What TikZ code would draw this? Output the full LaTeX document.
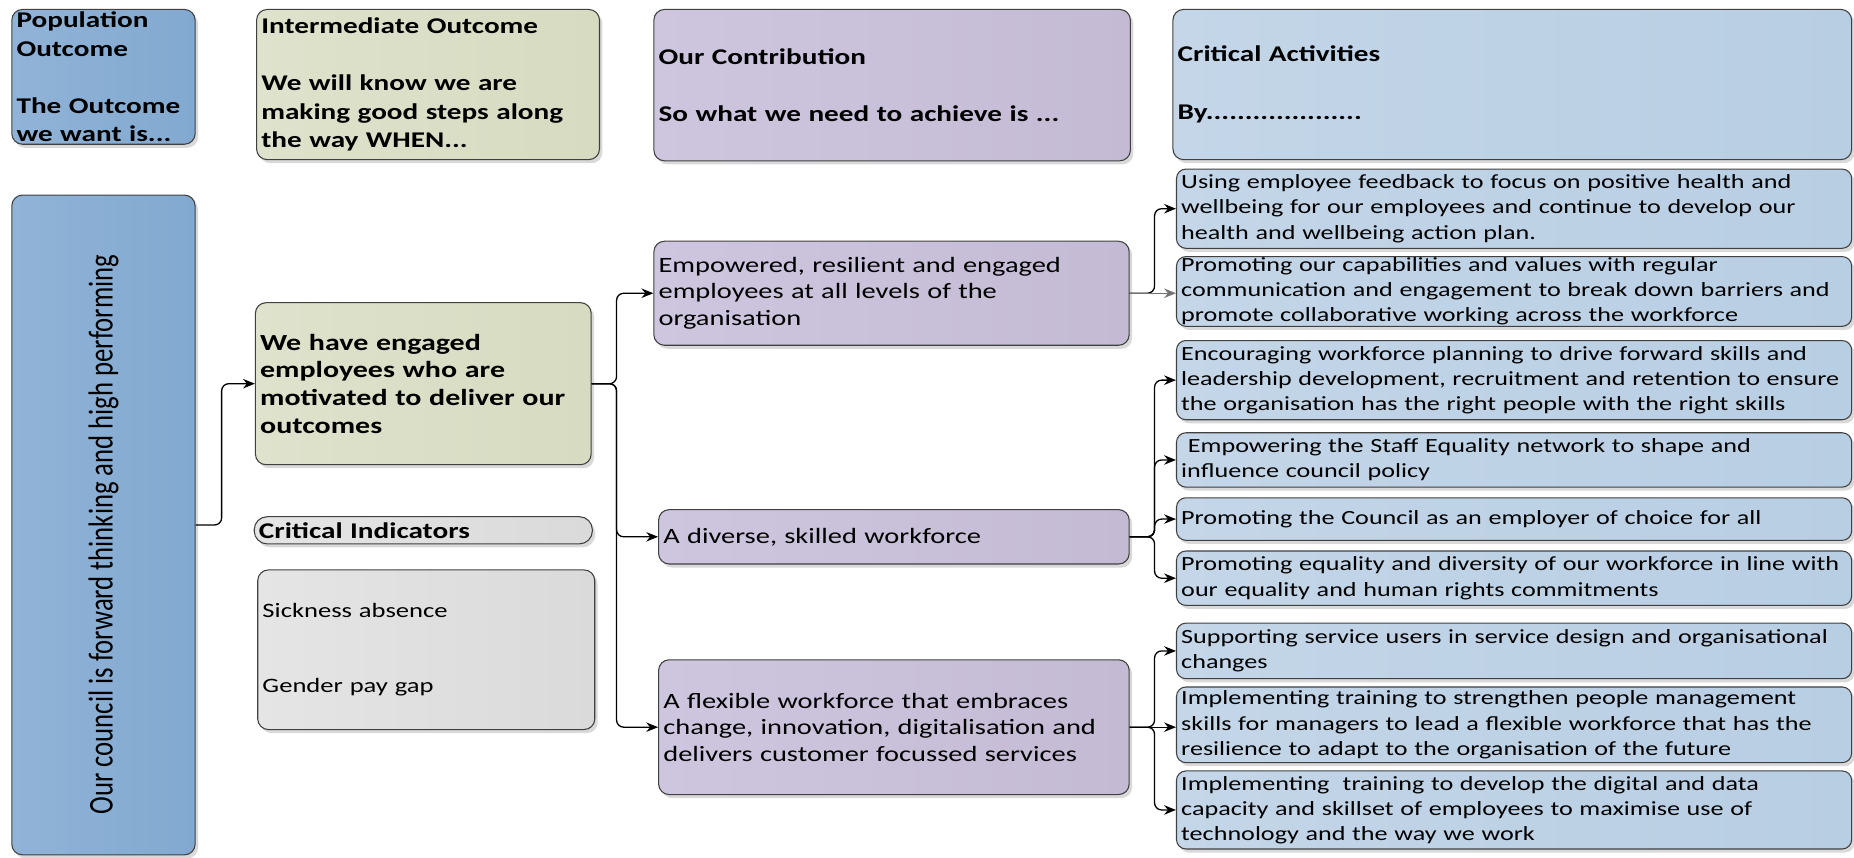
\documentclass[tikz,border=0pt]{standalone}
\usepackage{fontspec}
\setmainfont{Carlito}[FakeStretch=1.3]
\newfontfamily\rotfont{Carlito}
\usetikzlibrary{arrows.meta,shadows}

\definecolor{bdr}{HTML}{404040}
\definecolor{popL}{HTML}{91B3D7}
\definecolor{popR}{HTML}{82A9D0}
\definecolor{olL}{HTML}{DFE2CC}
\definecolor{olR}{HTML}{D6DBC1}
\definecolor{lvL}{HTML}{CEC6DE}
\definecolor{lvR}{HTML}{C4BAD4}
\definecolor{lbL}{HTML}{C4D6E8}
\definecolor{lbR}{HTML}{B8CEE3}
\definecolor{grL}{HTML}{E5E5E5}
\definecolor{grR}{HTML}{DADADA}

\newcommand\hdfont{\fontsize{19}{24}\selectfont\bfseries}
\newcommand\engfont{\fontsize{19.5}{23.5}\selectfont\bfseries}
\newcommand\ctrfont{\fontsize{18.5}{22.5}\selectfont}
\newcommand\actfont{\fontsize{17}{21.3}\selectfont}
\newcommand\indfont{\fontsize{17.3}{21}\selectfont}

\tikzset{
  base/.style={draw=bdr, line width=0.9pt, rounded corners=9pt,
    inner xsep=4pt, inner ysep=0pt, align=left, anchor=center,
    drop shadow={shadow xshift=2.5pt, shadow yshift=-3pt, opacity=0.15, fill=black}},
  bluebox/.style={base, left color=popL, right color=popR},
  olbox/.style={base, left color=olL, right color=olR},
  lvbox/.style={base, left color=lvL, right color=lvR},
  lbbox/.style={base, left color=lbL, right color=lbR},
  grbox/.style={base, left color=grL, right color=grR},
  actbox/.style={lbbox, rounded corners=8pt, font=\actfont,
    minimum width=571pt, text width=563pt},
  conn/.style={draw=black, line width=1.1pt, rounded corners=6pt,
    -{Stealth[length=10pt,width=8pt]}},
}

\begin{document}
\begin{tikzpicture}[x=1pt,y=-1pt]
\path[use as bounding box] (0,0) rectangle (1568,725);

% header row
\node[bluebox, font=\hdfont, minimum width=155pt, minimum height=114pt, text width=147pt]
  (pop) at (87.5,65) {Population\\Outcome\\[24pt]The Outcome\\we want is...};
\node[olbox, font=\hdfont, minimum width=290pt, minimum height=127pt, text width=282pt]
  (intm) at (362,71.5) {Intermediate Outcome\\[24pt]We will know we are\\making good steps along\\the way WHEN...};
\node[lvbox, font=\hdfont, minimum width=403pt, minimum height=128pt, text width=395pt]
  (contr) at (754.5,72) {Our Contribution\\[24pt]So what we need to achieve is ...};
\node[lbbox, font=\hdfont, minimum width=574pt, minimum height=127pt, text width=566pt]
  (crit) at (1279,71.5) {Critical Activities\\[25pt]By....................};

% left column
\node[bluebox, minimum width=155pt, minimum height=558pt]
  (council) at (87.5,444) {\rotatebox{90}{\scalebox{1}[1.3]{\rotfont\fontsize{22.6}{27}\selectfont Our council is forward thinking and high performing\hspace{16pt}}}};

% intermediate column
\node[olbox, font=\engfont, minimum width=284pt, minimum height=137pt, text width=276pt]
  (eng) at (358,324.5) {We have engaged\\employees who are\\motivated to deliver our\\outcomes};
\node[grbox, font=\hdfont, rounded corners=11pt, minimum width=286pt, minimum height=23pt, text width=278pt]
  (ci) at (358,448.5) {Critical Indicators};
\node[grbox, font=\indfont, minimum width=285pt, minimum height=135pt, text width=277pt]
  (ind) at (360.5,549.5) {Sickness absence\\[43pt]Gender pay gap};

% contribution column
\node[lvbox, font=\ctrfont, minimum width=402pt, minimum height=88pt, text width=394pt]
  (emp) at (754,248) {Empowered, resilient and engaged\\employees at all levels of the\\organisation};
\node[lvbox, font=\ctrfont, minimum width=398pt, minimum height=46pt, text width=390pt]
  (div) at (756,454) {A diverse, skilled workforce};
\node[lvbox, font=\ctrfont, minimum width=398pt, minimum height=114pt, text width=390pt]
  (flex) at (756,615) {A flexible workforce that embraces\\change, innovation, digitalisation and\\delivers customer focussed services};

% activities
\node[actbox, minimum height=67pt] (a1) at (1280.5,176.5)
  {Using employee feedback to focus on positive health and\\wellbeing for our employees and continue to develop our\\health and wellbeing action plan.};
\node[actbox, minimum height=59pt] (a2) at (1280.5,246.5)
  {Promoting our capabilities and values with regular\\communication and engagement to break down barriers and\\promote collaborative working across the workforce};
\node[actbox, minimum height=67pt] (a3) at (1280.5,321.5)
  {Encouraging workforce planning to drive forward skills and\\leadership development, recruitment and retention to ensure\\the organisation has the right people with the right skills};
\node[actbox, minimum height=46pt] (a4) at (1280.5,389)
  {\ Empowering the Staff Equality network to shape and\\influence council policy};
\node[actbox, minimum height=36pt] (a5) at (1280.5,439)
  {Promoting the Council as an employer of choice for all};
\node[actbox, minimum height=46pt] (a6) at (1280.5,489)
  {Promoting equality and diversity of our workforce in line with\\our equality and human rights commitments};
\node[actbox, minimum height=47pt] (a7) at (1280.5,550.5)
  {Supporting service users in service design and organisational\\changes};
\node[actbox, minimum height=64pt] (a8) at (1280.5,613)
  {Implementing training to strengthen people management\\skills for managers to lead a flexible workforce that has the\\resilience to adapt to the organisation of the future};
\node[actbox, minimum height=66pt] (a9) at (1280.5,685)
  {Implementing\ \ training to develop the digital and data\\capacity and skillset of employees to maximise use of\\technology and the way we work};

% connectors
\draw[conn] (council.east) -- ++(22,0) |- (eng.west);
\draw[conn] (eng.east) -- ++(21,0) |- (emp.west);
\draw[conn] (eng.east) -- ++(21,0) |- (div.west);
\draw[conn] (eng.east) -- ++(21,0) |- (flex.west);
\draw[conn] (emp.east) -- ++(21,0) |- (a1.west);
\draw[conn, draw=black!55] (emp.east) -- (emp.east -| a2.west);
\draw[conn] (div.east) -- ++(21,0) |- (a3.west);
\draw[conn] (div.east) -- ++(21,0) |- (a4.west);
\draw[conn] (div.east) -- ++(21,0) |- (a5.west);
\draw[conn] (div.east) -- ++(21,0) |- (a6.west);
\draw[conn] (flex.east) -- ++(21,0) |- (a7.west);
\draw[conn] (flex.east) -- (flex.east -| a8.west);
\draw[conn] (flex.east) -- ++(21,0) |- (a9.west);
\end{tikzpicture}
\end{document}
